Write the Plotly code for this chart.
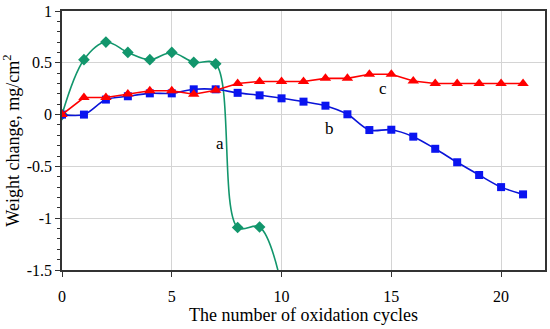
import plotly.graph_objects as go

cycles_a = [0, 1, 2, 3, 4, 5, 6, 7, 8, 9, 10]
weight_a = [0, 0.53, 0.70, 0.60, 0.53, 0.60, 0.505, 0.49, -1.09, -1.085, -1.65]

cycles_b = list(range(0, 22))
weight_b = [0, 0.0, 0.145, 0.177, 0.205, 0.205, 0.244, 0.244, 0.21, 0.186, 0.157,
            0.125, 0.086, 0.003, -0.149, -0.146, -0.213, -0.33, -0.46, -0.583, -0.70, -0.77]

cycles_c = list(range(0, 22))
weight_c = [0, 0.165, 0.165, 0.20, 0.23, 0.23, 0.196, 0.235, 0.30, 0.32, 0.32,
            0.32, 0.35, 0.35, 0.39, 0.39, 0.325, 0.30, 0.30, 0.30, 0.30, 0.30]

y_ticks = [1, 0.5, 0, -0.5, -1, -1.5]
y_tick_text = ["1", "0.5", "0", "-0.5", "-1", "-1.5"]
x_ticks = [0, 5, 10, 15, 20]

labels = [("a", 7.2, -0.28), ("b", 12.2, -0.135), ("c", 14.6, 0.25)]

font_family = "Liberation Serif"

fig = go.Figure()
fig.add_trace(go.Scatter(x=cycles_a, y=weight_a, mode="lines+markers",
                         line=dict(color="#12966c", width=1.6, shape="spline", smoothing=1.0),
                         marker=dict(symbol="diamond", size=9, color="#12966c"),
                         cliponaxis=True))
fig.add_trace(go.Scatter(x=cycles_b, y=weight_b, mode="lines+markers",
                         line=dict(color="#0a14d8", width=1.6, shape="spline", smoothing=0.9),
                         marker=dict(symbol="square", size=8, color="#0a14f0")))
fig.add_trace(go.Scatter(x=cycles_c, y=weight_c, mode="lines+markers",
                         line=dict(color="#ff0000", width=1.6),
                         marker=dict(symbol="triangle-up", size=10, color="#ff0000")))

for txt, lx, ly in labels:
    fig.add_annotation(x=lx, y=ly, text=txt, showarrow=False,
                       font=dict(family=font_family, size=17, color="black"))

fig.update_layout(
    width=550, height=329,
    margin=dict(l=62, r=5, t=11, b=59),
    paper_bgcolor="white", plot_bgcolor="white",
    showlegend=False,
    font=dict(family=font_family, size=16, color="black"),
)
fig.update_xaxes(range=[0, 22], tickvals=x_ticks, showgrid=True, gridcolor="#d4d4d4",
                 gridwidth=1, zeroline=False, showline=True, linecolor="#333333",
                 linewidth=1.5, mirror=True, ticks="outside", ticklen=5, tickcolor="#333333",
                 ticklabelstandoff=6, automargin=False,
                 tickfont=dict(family=font_family, size=16),
                 title=dict(text="The number of oxidation cycles", standoff=2,
                            font=dict(family=font_family, size=18)))
fig.update_yaxes(range=[-1.5, 1], tickvals=y_ticks, ticktext=y_tick_text, showgrid=True,
                 gridcolor="#d4d4d4", gridwidth=1, zeroline=False, showline=True,
                 linecolor="#333333", linewidth=1.5, mirror=True, ticks="outside",
                 ticklen=5, tickcolor="#333333", automargin=False,
                 tickfont=dict(family=font_family, size=16),
                 minor=dict(dtick=0.1, ticks="outside", ticklen=3, tickcolor="#333333",
                            showgrid=False),
                 title=dict(text="Weight change, mg/cm<sup>2</sup>",
                            font=dict(family=font_family, size=18)))

fig.write_html("out.html", config={"displayModeBar": False},
               post_script="document.body.style.margin='0';document.body.style.padding='0';")
